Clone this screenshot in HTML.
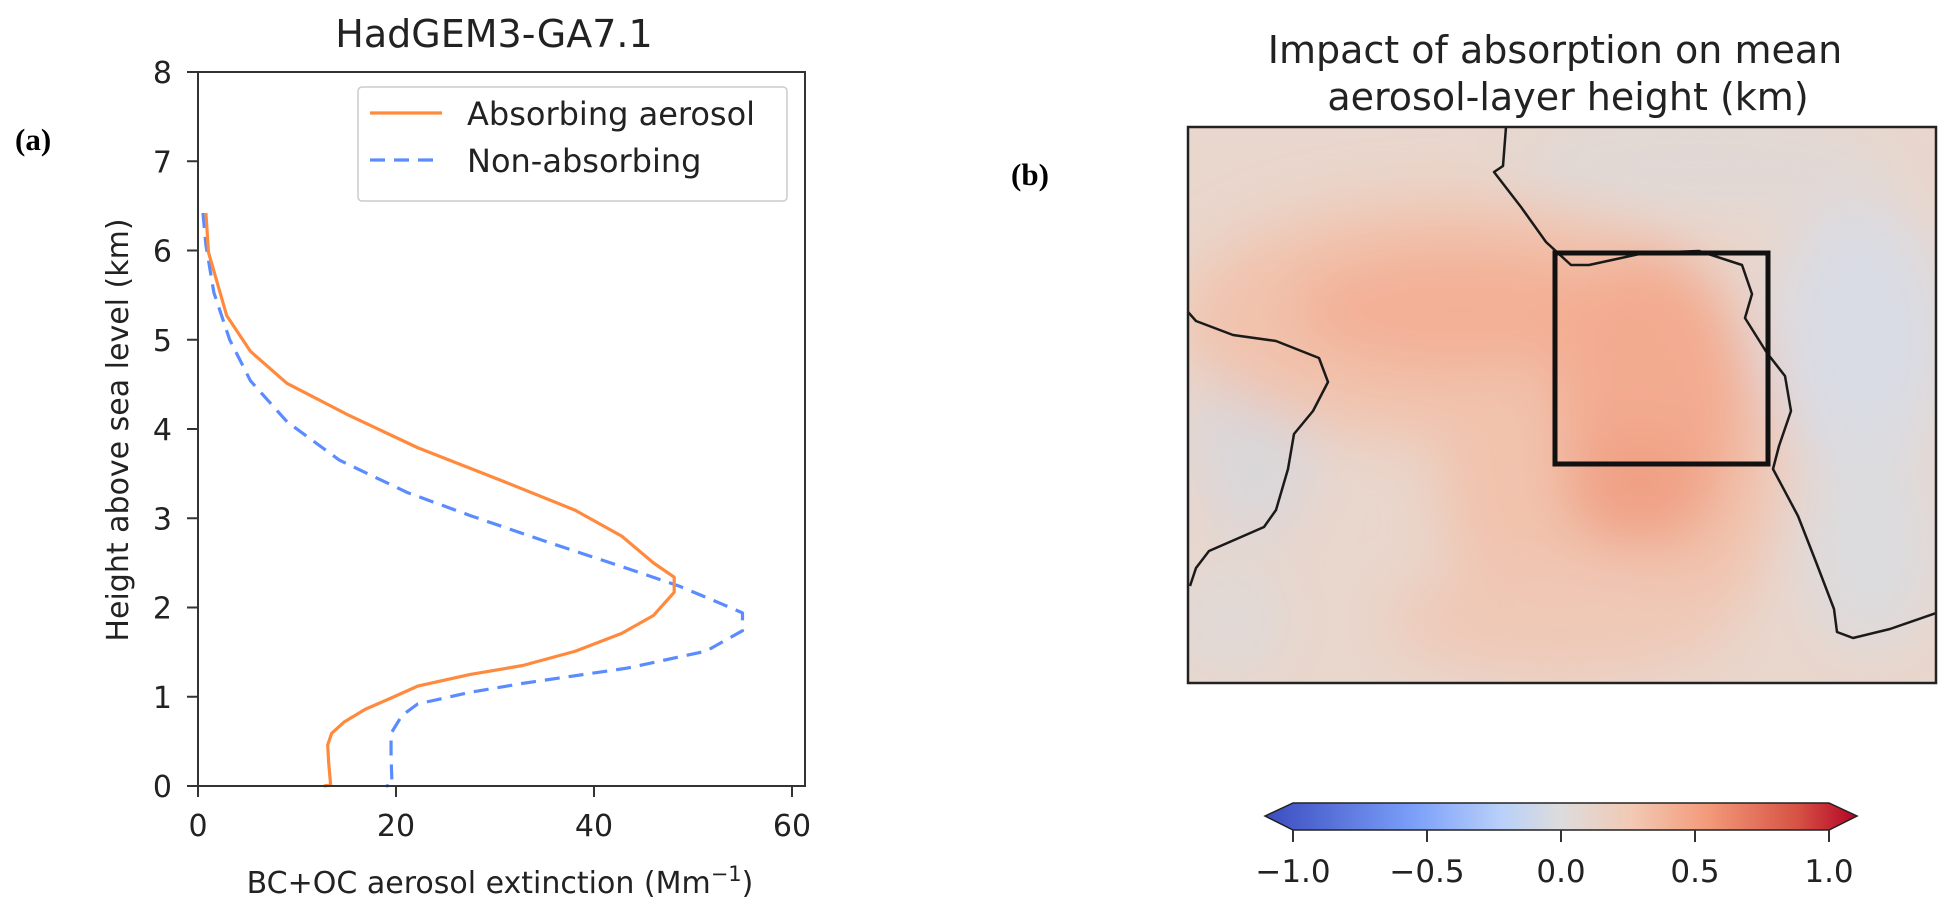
<!DOCTYPE html>
<html><head><meta charset="utf-8"><style>
body{margin:0;background:#fff;}
svg{display:block;font-family:"DejaVu Sans","Liberation Sans",sans-serif;}
</style></head><body>
<svg width="1958" height="919" viewBox="0 0 1958 919">
<defs>
<filter id="blur" x="-50%" y="-50%" width="200%" height="200%"><feGaussianBlur stdDeviation="28"/></filter>
<clipPath id="mapclip"><rect x="1188" y="127" width="748" height="556"/></clipPath>
<linearGradient id="cw" x1="0" x2="1" y1="0" y2="0">
<stop offset="0" stop-color="#3b4cc0"/><stop offset="0.25" stop-color="#7b9ff9"/><stop offset="0.4" stop-color="#b9d0f9"/><stop offset="0.5" stop-color="#dddcdc"/><stop offset="0.62" stop-color="#f2c9b4"/><stop offset="0.75" stop-color="#f39979"/><stop offset="0.9" stop-color="#d65244"/><stop offset="1" stop-color="#b40426"/>
</linearGradient>
</defs>

<text x="15" y="150" font-family="Liberation Serif,serif" font-weight="bold" font-size="31">(a)</text>
<text x="1011" y="185" font-family="Liberation Serif,serif" font-weight="bold" font-size="31">(b)</text>

<g id="chartA"></g>

<g>
<text x="1555" y="63" text-anchor="middle" font-size="38" fill="#222">Impact of absorption on mean</text>
<text x="1568" y="110" text-anchor="middle" font-size="38" fill="#222">aerosol-layer height (km)</text>
<g clip-path="url(#mapclip)">
<rect x="1188" y="127" width="748" height="556" fill="#e9d6cc"/>
<g filter="url(#blur)">
<ellipse cx="1255" cy="430" rx="60" ry="110" fill="#d9d7da"/>
<ellipse cx="1230" cy="620" rx="60" ry="60" fill="#e0d9d6"/>
<ellipse cx="1860" cy="340" rx="90" ry="140" fill="#d9dce4"/>
<ellipse cx="1870" cy="540" rx="70" ry="110" fill="#dcdbde"/>
<ellipse cx="1700" cy="165" rx="200" ry="40" fill="#dfd9d7"/>
<ellipse cx="1450" cy="320" rx="270" ry="120" fill="#f1c3ad"/>
<ellipse cx="1610" cy="470" rx="170" ry="200" fill="#f1c3ad"/>
<ellipse cx="1460" cy="310" rx="170" ry="60" fill="#f3b096"/>
<ellipse cx="1650" cy="390" rx="95" ry="140" fill="#f3ab90"/>
<ellipse cx="1640" cy="490" rx="75" ry="55" fill="#f0a084"/>
<ellipse cx="1560" cy="620" rx="170" ry="55" fill="#efc8b6"/>
</g>
</g>
<g clip-path="url(#mapclip)" fill="none" stroke="#1a1a1a" stroke-width="2.5" stroke-linejoin="round">
<polyline points="1506,127 1503,166 1494,172 1521,207 1546,242 1571,265 1589,265 1644,253 1699,251 1742,265 1752,294 1745,318 1767,353 1785,376 1791,411 1779,446 1773,469 1798,516 1816,562 1834,609 1837,632 1853,638 1890,629 1939,612"/>
<polyline points="1188,312 1196,321 1233,335 1276,341 1319,358 1328,382 1313,411 1294,434 1288,469 1276,510 1264,527 1209,551 1196,568 1190,586"/>
</g>
<rect x="1555" y="253" width="213" height="211" fill="none" stroke="#111" stroke-width="5"/>
<rect x="1188" y="127" width="748" height="556" fill="none" stroke="#222" stroke-width="2.5"/>
</g>

<g>
<polygon points="1265,816 1293,803 1829,803 1857,816 1829,830 1293,830" fill="url(#cw)" stroke="#222" stroke-width="1.5"/>
<g id="cbticks"></g>
</g>

<script>
const ns="http://www.w3.org/2000/svg";
const absX=[0.8,1.06,2.9,5.3,9.0,15.3,22.2,30.7,38.1,42.8,46.0,48.1,48.1,46.0,42.8,38.1,32.8,27.5,22.2,19.6,16.9,14.8,13.5,13.1,13.2,13.4,12.7];
const absY=[6.42,5.98,5.27,4.87,4.51,4.15,3.79,3.42,3.09,2.80,2.50,2.34,2.17,1.91,1.71,1.51,1.35,1.25,1.12,0.99,0.86,0.72,0.59,0.46,0.26,0.01,0];
const nonX=[0.5,0.8,1.6,3.2,5.3,9.0,14.3,21.1,27.5,35.4,43.3,48.6,52.9,55.0,55.0,51.3,43.3,32.8,27.5,22.2,20.6,19.5,19.5,19.6,19.0];
const nonY=[6.42,6.06,5.53,5.0,4.54,4.08,3.65,3.29,3.03,2.73,2.44,2.24,2.04,1.94,1.74,1.51,1.32,1.15,1.05,0.92,0.79,0.59,0.33,0.01,0];
const xTicks=[0,20,40,60];
const yTicks=[0,1,2,3,4,5,6,7,8];
const cbTicks=[-1.0,-0.5,0.0,0.5,1.0];
const sx=v=>198+v*9.9, sy=v=>786-v*89.25, cx=v=>1561+v*268;
const g=document.getElementById('chartA');
function mk(tag,attrs,parent){const e=document.createElementNS(ns,tag);for(const k in attrs)e.setAttribute(k,attrs[k]);(parent||g).appendChild(e);return e;}
const fmt=v=>(v<0?'\u2212':'')+Math.abs(v).toFixed(1);
let t=mk('text',{x:494,y:47,'text-anchor':'middle','font-size':38,fill:'#222'});t.textContent='HadGEM3-GA7.1';


function line(xs,ys,color,dash,name){
 const p=mk('polyline',{points:xs.map((x,i)=>sx(x)+','+sy(ys[i])).join(' '),fill:'none',stroke:color,'stroke-width':3.2,'stroke-dasharray':dash,'stroke-linejoin':'round'});
 
 
}
line(nonX,nonY,'#5b8cff','15 9','non-absorbing-line');
line(absX,absY,'#ff8a3d','none','absorbing-line');
const fr=mk('rect',{x:198,y:72,width:607,height:714,fill:'none',stroke:'#333','stroke-width':2});


xTicks.forEach(v=>{
 const tk=mk('line',{x1:sx(v),x2:sx(v),y1:786,y2:797,stroke:'#333','stroke-width':2});
 
 
 const l=mk('text',{x:sx(v),y:836,'text-anchor':'middle','font-size':30,fill:'#222'});l.textContent=v;
 
 
});
yTicks.forEach(v=>{
 const tk=mk('line',{x1:187,x2:198,y1:sy(v),y2:sy(v),stroke:'#333','stroke-width':2});
 
 
 const l=mk('text',{x:172,y:sy(v)+11,'text-anchor':'end','font-size':30,fill:'#222'});l.textContent=v;
 
 
});
const yl=mk('text',{x:0,y:0,transform:'translate(128,430) rotate(-90)','text-anchor':'middle','font-size':30,fill:'#222'});yl.textContent='Height above sea level (km)';


const xl=mk('text',{x:500,y:893,'text-anchor':'middle','font-size':30,fill:'#222'});


const t1=mk('tspan',{},xl);t1.textContent='BC+OC aerosol extinction (Mm';
const t2=mk('tspan',{dy:-12,'font-size':21},xl);t2.textContent='\u22121';
const t3=mk('tspan',{dy:12},xl);t3.textContent=')';
const lg=mk('rect',{x:358,y:87,width:429,height:114,rx:4,fill:'#fff',stroke:'#ccc','stroke-width':1.5});


[['Absorbing aerosol','#ff8a3d','none',113],['Non-absorbing','#5b8cff','15 9',160]].forEach(([n,c,d,y])=>{
 const ln=mk('line',{x1:370,x2:442,y1:y,y2:y,stroke:c,'stroke-width':3.2,'stroke-dasharray':d});
 
 
 const tx=mk('text',{x:467,y:y+12,'font-size':32,fill:'#222'});tx.textContent=n;
 
 
});
const cg=document.getElementById('cbticks');
cbTicks.forEach(v=>{
 const tk=mk('line',{x1:cx(v),x2:cx(v),y1:830,y2:842,stroke:'#333','stroke-width':2},cg);
 
 
 const l=mk('text',{x:cx(v),y:882,'text-anchor':'middle','font-size':31,fill:'#222'},cg);l.textContent=fmt(v);
 
 
});
</script>
</svg>
</body></html>
